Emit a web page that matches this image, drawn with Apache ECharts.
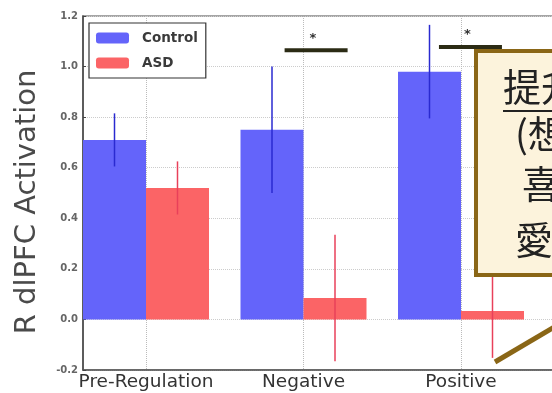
<!DOCTYPE html>
<html><head><meta charset="utf-8">
<script src="https://cdn.jsdelivr.net/npm/echarts@6/dist/echarts.min.js"></script>
<style>html,body{margin:0;padding:0;background:#fff}#c{width:552px;height:393px}</style>
</head><body><div id="c"></div>
<script>
const categories = ['Pre-Regulation', 'Negative', 'Positive'];
const controlMean = [0.71, 0.75, 0.98];
const controlErr = [0.105, 0.25, 0.185];
const asdMean = [0.52, 0.085, 0.033];
const asdErr = [0.105, 0.25, 0.185];
const yTicks = [-0.2, 0.0, 0.2, 0.4, 0.6, 0.8, 1.0, 1.2];
// significance brackets: [xStart, xEnd, y, starX]
const sigBrackets = [[0.88, 1.28, 1.065, 1.06], [1.86, 2.26, 1.077, 2.04]];
const calloutLines = ['提升', '(想像', '喜歡', '愛的'];

const barHalf = 0.2;
const chart = echarts.init(document.getElementById('c'));

function errSeries(name, means, errs, off, color) {
  return {
    type: 'custom', name: name + ' err', z: 5,
    data: means.map((m, i) => [i + off, m - errs[i], m + errs[i]]),
    renderItem: (params, api) => {
      const p1 = api.coord([api.value(0), api.value(1)]);
      const p2 = api.coord([api.value(0), api.value(2)]);
      return { type: 'line', shape: { x1: p1[0], y1: p1[1], x2: p2[0], y2: p2[1] },
        style: { stroke: color, lineWidth: 1.5 } };
    }
  };
}

const option = {
  animation: false,
  backgroundColor: '#fff',
  grid: { left: 83, top: 16, bottom: 23, width: 598.5, outerBoundsMode: 'none', containLabel: false,
    show: true, borderColor: '#888', borderWidth: 1.5, backgroundColor: 'transparent' },
  legend: {
    left: 89, top: 23, orient: 'vertical', itemWidth: 33, itemHeight: 11, itemGap: 11,
    padding: [8, 8, 8, 7], borderColor: '#333', borderWidth: 1.2, backgroundColor: '#fff',
    data: ['Control', 'ASD'],
    textStyle: { fontFamily: 'DejaVu Sans', fontSize: 13.5, fontWeight: 'bold', color: '#3a3a3a', padding: [0, 0, 0, 8] },
    itemStyle: { opacity: 1 }
  },
  xAxis: {
    type: 'value', min: -0.4, max: 3.4,
    axisLine: { show: true, onZero: false, lineStyle: { color: '#555', width: 1.5 } },
    axisTick: { show: false, customValues: [0, 1, 2] },
    axisLabel: { customValues: [0, 1, 2], formatter: v => categories[Math.round(v)] || '',
      fontFamily: 'DejaVu Sans', fontSize: 18.5, color: '#333', margin: 3 },
    splitLine: { show: true, lineStyle: { color: '#bbb', type: 'dotted', width: 1 } }
  },
  yAxis: {
    type: 'value', min: yTicks[0], max: yTicks[yTicks.length - 1], interval: 0.2,
    name: 'R dlPFC Activation', nameLocation: 'middle', nameGap: 41,
    nameTextStyle: { fontFamily: 'DejaVu Sans', fontSize: 29, color: '#4a4a4a', padding: [0, 18, 0, 0] },
    axisLine: { show: true, onZero: false, lineStyle: { color: '#444', width: 1.5 } },
    axisTick: { show: true, inside: true, length: 3, lineStyle: { color: '#444' } },
    axisLabel: { formatter: v => v.toFixed(1), fontFamily: 'DejaVu Sans', fontSize: 10, fontWeight: 'bold', color: '#666', margin: 5 },
    splitLine: { show: true, lineStyle: { color: '#ccc', type: 'dotted', width: 1 } }
  },
  series: [
    { name: 'Control', type: 'bar', barWidth: 63, barGap: '-100%',
      itemStyle: { color: '#6464fa' },
      data: controlMean.map((v, i) => [i - barHalf, v]) },
    { name: 'ASD', type: 'bar', barWidth: 63, barGap: '-100%',
      itemStyle: { color: '#fb6466' },
      data: asdMean.map((v, i) => [i + barHalf, v]) },
    errSeries('Control', controlMean, controlErr, -barHalf, '#2a2ad0'),
    errSeries('ASD', asdMean, asdErr, barHalf, '#e8405a'),
    { type: 'custom', name: 'sig', z: 6,
      data: sigBrackets,
      renderItem: (params, api) => {
        const a = api.coord([api.value(0), api.value(2)]);
        const b = api.coord([api.value(1), api.value(2)]);
        const s = api.coord([api.value(3), api.value(2)]);
        return { type: 'group', children: [
          { type: 'line', shape: { x1: a[0], y1: a[1], x2: b[0], y2: b[1] }, style: { stroke: '#2b2b14', lineWidth: 4 } },
          { type: 'text', x: s[0], y: s[1] - 12, style: { text: '*', fontSize: 13, fontWeight: 'bold', fill: '#333', align: 'center', verticalAlign: 'middle', fontFamily: 'DejaVu Sans' } }
        ] };
      }
    }
  ],
  graphic: [
    { type: 'rect', z: 100, shape: { x: 476, y: 51, width: 200, height: 224 },
      style: { fill: '#fcf3dc', stroke: '#8a6616', lineWidth: 4 } },
    { type: 'text', z: 101, x: 503, y: 87, style: { text: calloutLines[0], fontSize: 38, fontFamily: 'Noto Sans CJK TC', fill: '#222', verticalAlign: 'middle' } },
    { type: 'line', z: 101, shape: { x1: 503, y1: 111, x2: 600, y2: 111 }, style: { stroke: '#222', lineWidth: 2 } },
    { type: 'text', z: 101, x: 515, y: 134, style: { text: calloutLines[1], fontSize: 38, fontFamily: 'Noto Sans CJK TC', fill: '#222', verticalAlign: 'middle' } },
    { type: 'text', z: 101, x: 522, y: 184, style: { text: calloutLines[2], fontSize: 38, fontFamily: 'Noto Sans CJK TC', fill: '#222', verticalAlign: 'middle' } },
    { type: 'text', z: 101, x: 515, y: 240, style: { text: calloutLines[3], fontSize: 38, fontFamily: 'Noto Sans CJK TC', fill: '#222', verticalAlign: 'middle' } },
    { type: 'line', z: 101, shape: { x1: 556, y1: 326, x2: 495, y2: 362 }, style: { stroke: '#8a6616', lineWidth: 5 } }
  ]
};
chart.setOption(option);
</script></body></html>
